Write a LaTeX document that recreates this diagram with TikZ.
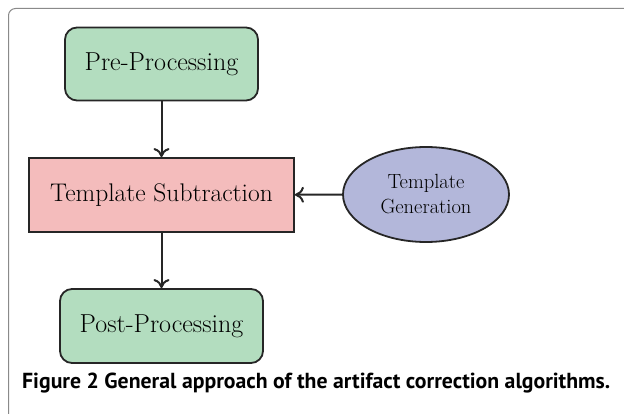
\documentclass[tikz,border=0pt]{standalone}
\usepackage{fontspec}
\newfontfamily\capfont{PT Sans}
\usetikzlibrary{shapes.geometric,arrows.meta}
\definecolor{boxgreen}{HTML}{B3DDBF}
\definecolor{boxpink}{HTML}{F4BCBC}
\definecolor{boxblue}{HTML}{B3B7DA}
\definecolor{framegray}{HTML}{8A8A8A}
\begin{document}
\begin{tikzpicture}[x=1pt,y=-1pt,
  procbox/.style={draw=black!85,line width=1.8pt,rounded corners=12pt,fill=boxgreen,
     minimum width=193pt,minimum height=73pt,inner sep=0pt,font=\fontsize{26}{30}\selectfont},
  subbox/.style={draw=black!85,line width=1.8pt,fill=boxpink,
     minimum width=265pt,minimum height=74pt,inner sep=0pt,font=\fontsize{25.5}{30}\selectfont},
  genell/.style={draw=black!85,line width=1.8pt,ellipse,fill=boxblue,
     minimum width=166pt,minimum height=95pt,inner sep=0pt,align=center,
     font=\fontsize{20.5}{25}\selectfont},
  conn/.style={draw=black!85,line width=2pt,-{To[length=9pt,width=16pt,line width=2pt]}}]
\useasboundingbox (0,0) rectangle (624,414);
\draw[framegray,line width=1pt,rounded corners=7pt] (8.5,430) -- (8.5,8.5) -- (640,8.5);
\node[procbox] (pre) at (161.5,64) {Pre-Processing};
\node[subbox] (sub) at (161.5,195) {Template Subtraction};
\node[genell] (gen) at (426,194.5) {Template\\Generation};
\node[procbox,minimum width=203pt,minimum height=74pt] (post) at (161.5,326) {Post-Processing};
\draw[conn] (pre) -- (sub);
\draw[conn] (gen) -- (sub);
\draw[conn] (sub) -- (post);
\node[anchor=base west,inner sep=0pt] (cap) at (22,388)
  {\resizebox{588pt}{!}{\capfont\bfseries\fontsize{16}{19}\selectfont Figure 2 General approach of the artifact correction algorithms.}};
\end{tikzpicture}
\end{document}
